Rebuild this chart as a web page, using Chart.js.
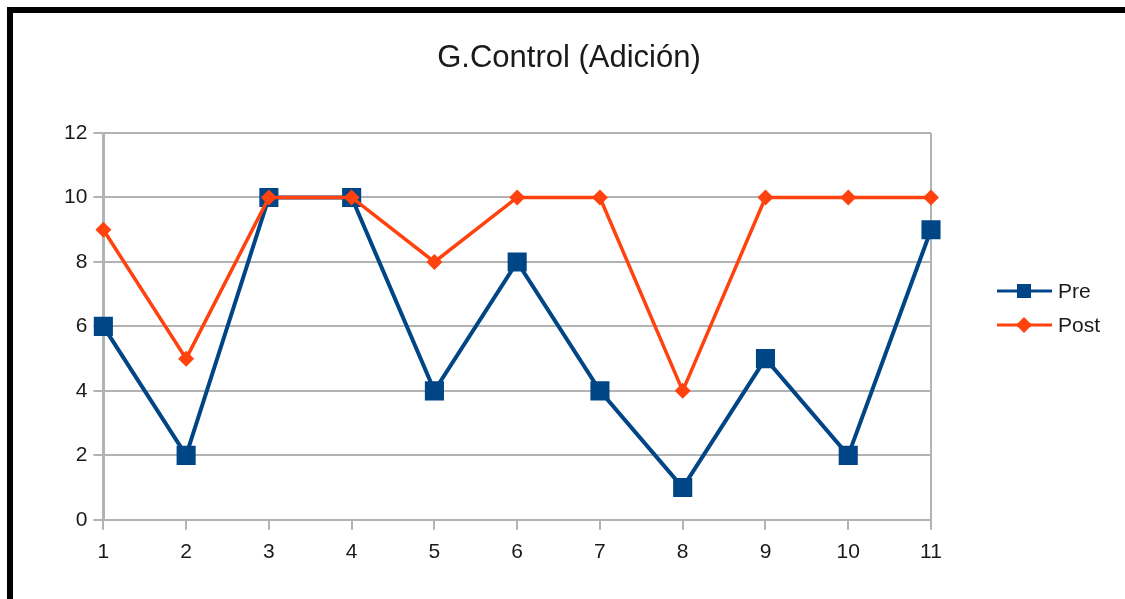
<!DOCTYPE html>
<html>
<head>
<meta charset="utf-8">
<script src="https://cdn.jsdelivr.net/npm/chart.js@4/dist/chart.umd.min.js"></script>
<style>
    html, body { margin: 0; padding: 0; background: #fff; }
    #wrap { position: relative; width: 1125px; height: 599px; overflow: hidden; }
    #frame {
        position: absolute; left: 7px; top: 7px; width: 1200px; height: 700px;
        border-top: 6px solid #000; border-left: 6px solid #000;
    }
    #chart { position: absolute; left: 0; top: 0; }
</style>
</head>
<body>
<div id="wrap">
    <div id="frame"></div>
    <canvas id="chart" width="1125" height="599"></canvas>
</div>
<script>
const categories = ["1", "2", "3", "4", "5", "6", "7", "8", "9", "10", "11"];
const preValues = [6, 2, 10, 10, 4, 8, 4, 1, 5, 2, 9];
const postValues = [9, 5, 10, 10, 8, 10, 10, 4, 10, 10, 10];
const chartTitle = "G.Control (Adición)";

const blue = "#004586";
const orange = "#ff420e";
const gridGray = "#b3b3b3";
const textColor = "#1a1a1a";
const fontFamily = "'Liberation Sans', Arial, sans-serif";

// title centred on the whole picture, not on the plot
const pageTitle = {
    id: "pageTitle",
    afterDraw(chart) {
        let ctx = chart.ctx;
        ctx.save();
        ctx.fillStyle = textColor;
        ctx.font = "31px " + fontFamily;
        ctx.textAlign = "center";
        ctx.textBaseline = "middle";
        ctx.fillText(chartTitle, 569, 58);
        ctx.restore();
    }
};

// legend on the right: line + marker, like the spreadsheet one
const sideLegend = {
    id: "sideLegend",
    afterDraw(chart) {
        let ctx = chart.ctx;
        let startY = 291;
        chart.data.datasets.forEach((ds, i) => {
            let y = startY + i * 34;
            ctx.save();
            ctx.strokeStyle = ds.borderColor;
            ctx.lineWidth = 3;
            ctx.beginPath();
            ctx.moveTo(997, y);
            ctx.lineTo(1052, y);
            ctx.stroke();
            ctx.fillStyle = ds.backgroundColor;
            ctx.beginPath();
            if (ds.pointStyle === "rect") {
                ctx.rect(1017, y - 7, 14, 14);
            } else {
                ctx.moveTo(1024 - 8, y);
                ctx.lineTo(1024, y - 8);
                ctx.lineTo(1024 + 8, y);
                ctx.lineTo(1024, y + 8);
                ctx.closePath();
            }
            ctx.fill();
            ctx.fillStyle = textColor;
            ctx.font = "21px " + fontFamily;
            ctx.textBaseline = "middle";
            ctx.textAlign = "left";
            ctx.fillText(ds.label, 1058, y + 1);
            ctx.restore();
        });
    }
};

let ctx = document.getElementById("chart").getContext("2d");
new Chart(ctx, {
    type: "line",
    data: {
        labels: categories,
        datasets: [{
            label: "Pre",
            data: preValues,
            borderColor: blue,
            backgroundColor: blue,
            borderWidth: 4,
            pointStyle: "rect",
            pointRadius: 13.5,
            pointBorderWidth: 0,
            order: 1
        }, {
            label: "Post",
            data: postValues,
            borderColor: orange,
            backgroundColor: orange,
            borderWidth: 3.5,
            pointStyle: "rectRot",
            pointRadius: 8,
            pointBorderWidth: 0,
            order: 0
        }]
    },
    options: {
        responsive: false,
        animation: false,
        layout: { padding: { left: 58, right: 194, top: 133, bottom: 24 } },
        plugins: {
            legend: { display: false },
            tooltip: { enabled: false },
            title: { display: false }
        },
        scales: {
            x: {
                offset: false,
                grid: {
                    offset: false,
                    lineWidth: 2,
                    tickLength: 10,
                    tickColor: gridGray,
                    tickWidth: 2,
                    color: c => (c.index === categories.length - 1 ? gridGray : "rgba(0,0,0,0)")
                },
                border: { color: gridGray, width: 2 },
                ticks: {
                    color: textColor,
                    padding: 10,
                    maxRotation: 0,
                    font: { family: fontFamily, size: 21 }
                }
            },
            y: {
                min: 0,
                max: 12,
                grid: { color: gridGray, lineWidth: 2, tickLength: 10 },
                border: { color: gridGray, width: 3 },
                ticks: {
                    stepSize: 2,
                    color: textColor,
                    padding: 6,
                    font: { family: fontFamily, size: 21 }
                }
            }
        }
    },
    plugins: [pageTitle, sideLegend]
});
</script>
</body>
</html>
